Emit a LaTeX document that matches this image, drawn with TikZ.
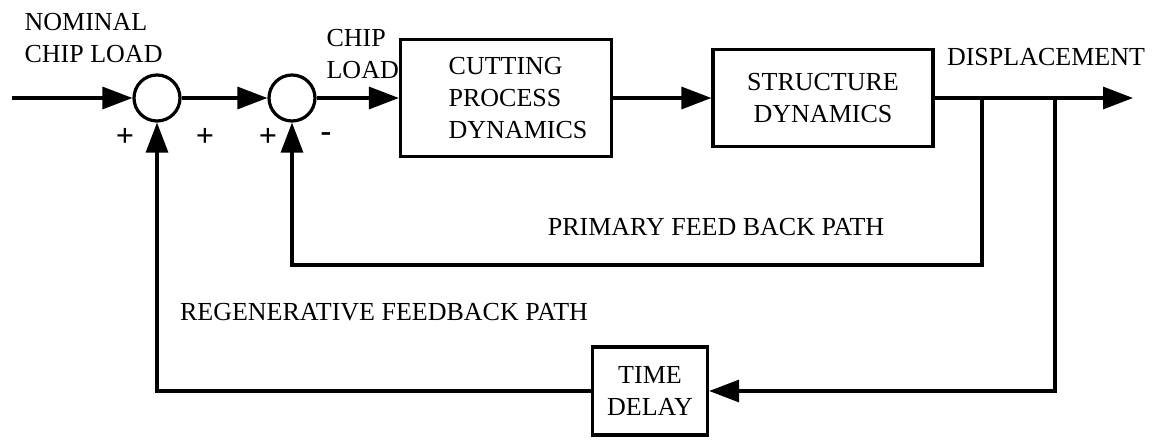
\documentclass[tikz,border=0pt]{standalone}
\usepackage{fontspec}
\setmainfont{Liberation Serif}
\usetikzlibrary{
  arrows.meta,
}

\begin{document}
\begin{tikzpicture}[
    x=0.5pt, y=-0.5pt,
    line width=1.6pt,
    arr/.style={-{Triangle[length=15pt, width=11pt]}},
    lab/.style={font=\fontsize{13}{16}\selectfont, inner sep=0pt},
    sgn/.style={font=\fontsize{16}{16}\selectfont\bfseries, inner sep=0pt},
    circ/.style={draw, circle, minimum size=23pt, inner sep=0pt},
    blk/.style={draw, lab, align=center},
  ]
  \useasboundingbox (0,0) rectangle (1161,443);

  \coordinate (in) at (12,98);
  \node[circ] (s1) at (157,98) {};
  \node[circ] (s2) at (292,98) {};
  \node[blk, align=left, minimum width=105.5pt, minimum height=58.5pt] (cut) at (506,98) {\hspace*{12pt}CUTTING\\\hspace*{12pt}PROCESS\\\hspace*{12pt}DYNAMICS};
  \node[blk, minimum width=110pt, minimum height=48.5pt] (str) at (823,98) {STRUCTURE\\DYNAMICS};
  \node[blk, minimum width=57.5pt, minimum height=44pt] (dly) at (650,391) {TIME\\DELAY};
  \coordinate (b1) at (982,98);
  \coordinate (b2) at (1055,98);
  \coordinate (out) at (1133,98);
  \coordinate (fb1) at (292,265);

  \draw[arr] (in) -- (s1);
  \draw[arr] (s1) -- (s2);
  \draw[arr] (s2) -- (cut);
  \draw[arr] (cut) -- (str);
  \draw[arr] (str) -- (out);
  \draw[arr] (b1) |- (fb1) -- (s2);
  \draw[arr] (b2) |- (dly);
  \draw[arr] (dly) -| (s1);

  \node[lab, align=left, anchor=west] (nom) at (23,38) {NOMINAL\\CHIP LOAD};
  \node[lab, align=left, anchor=west] (chip) at (325,54) {CHIP\\LOAD};
  \node[sgn] (pa) at (125,137) {+};
  \node[sgn] (pb) at (205,137) {+};
  \node[sgn] (pc) at (268,137) {+};
  \node[sgn] (mn) at (326,137) {-};
  \node[lab] (disp) at (1046,57) {DISPLACEMENT};
  \node[lab] (prim) at (716,227) {PRIMARY FEED BACK PATH};
  \node[lab] (regen) at (384,312) {REGENERATIVE FEEDBACK PATH};
\end{tikzpicture}
\end{document}
